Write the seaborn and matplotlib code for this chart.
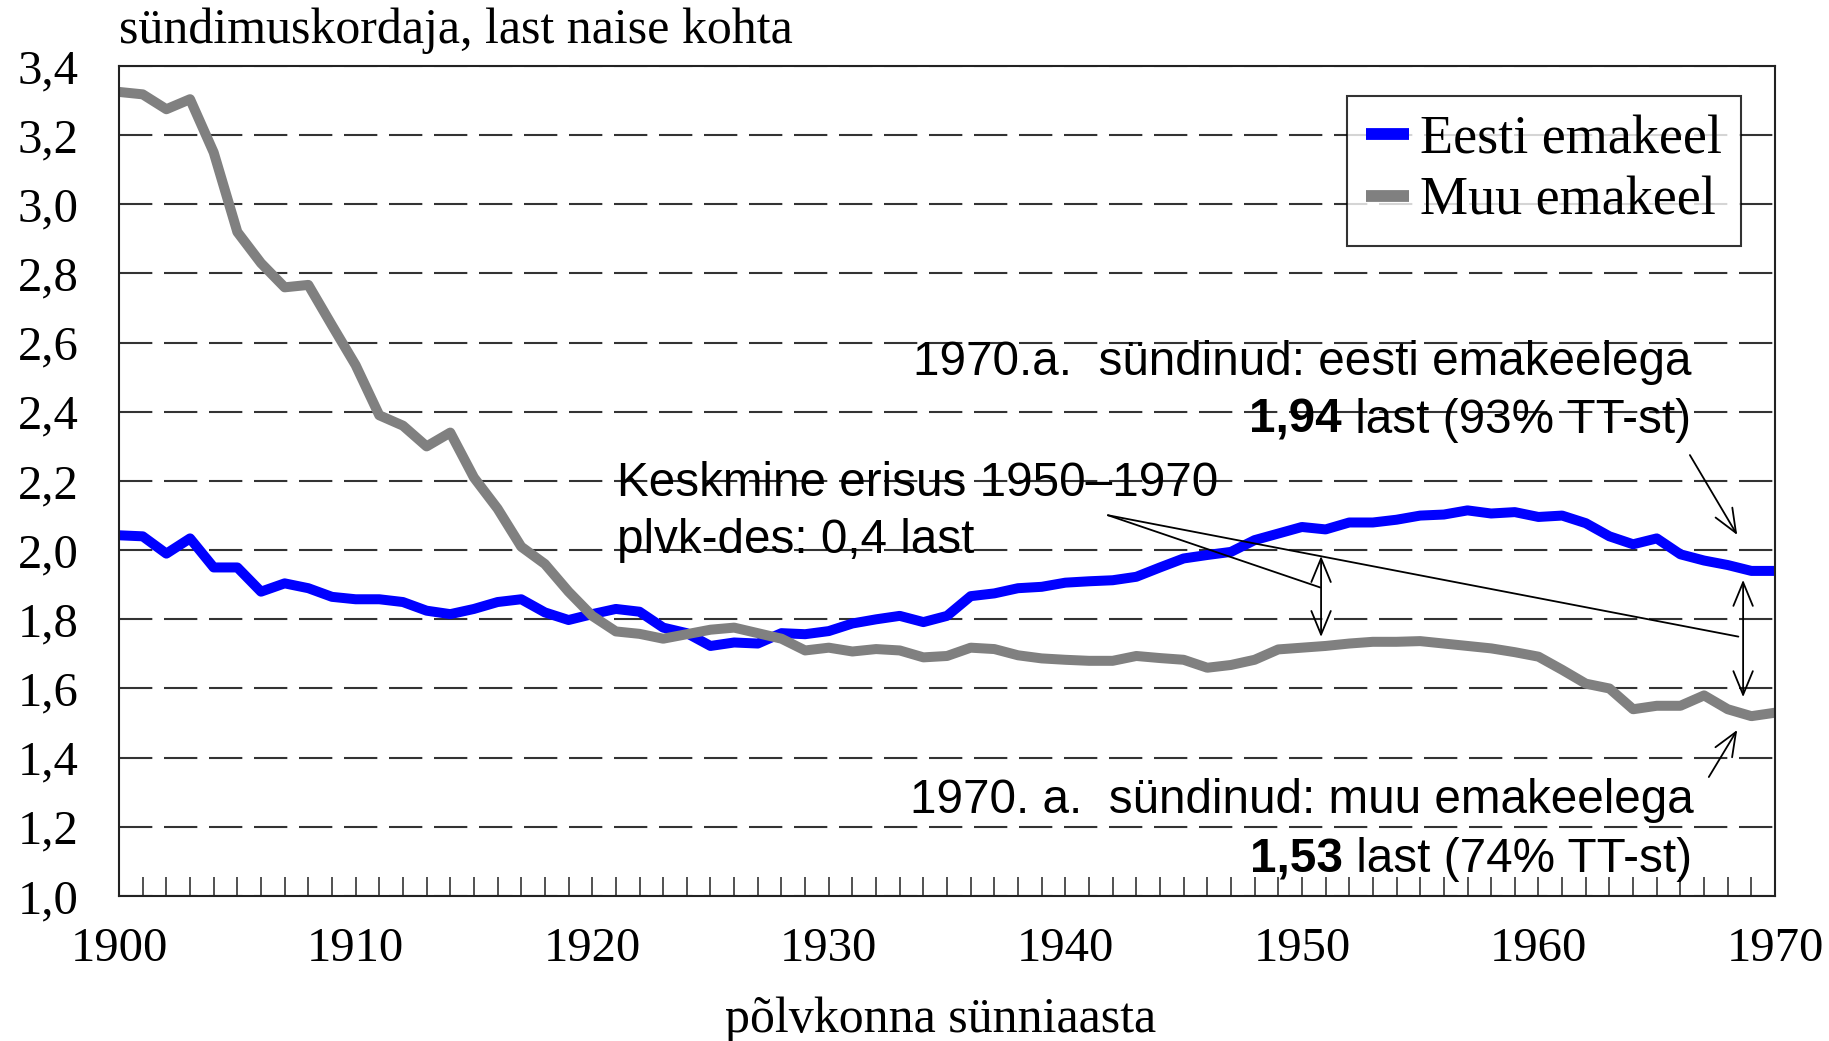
import numpy as np
import pandas as pd
import matplotlib
matplotlib.use("Agg")
import matplotlib.pyplot as plt
import seaborn as sns
from matplotlib.ticker import MultipleLocator, FixedLocator

# cohort birth year and completed fertility (children per woman)
years = list(range(1900, 1971))
eesti = [2.043, 2.04, 1.99, 2.034, 1.95, 1.95, 1.88, 1.904, 1.89, 1.865,
         1.858, 1.858, 1.85, 1.825, 1.815, 1.83, 1.85, 1.858, 1.82, 1.798,
         1.815, 1.83, 1.822, 1.776, 1.76, 1.723, 1.733, 1.73, 1.76, 1.757,
         1.766, 1.788, 1.80, 1.81, 1.792, 1.81, 1.867, 1.875, 1.89, 1.894,
         1.906, 1.91, 1.913, 1.923, 1.95, 1.976, 1.986, 1.995, 2.029, 2.048,
         2.067, 2.06, 2.08, 2.08, 2.088, 2.10, 2.103, 2.115, 2.106, 2.11,
         2.096, 2.10, 2.078, 2.04, 2.017, 2.034, 1.988, 1.97, 1.957, 1.94,
         1.94]
muu = [3.325, 3.318, 3.275, 3.304, 3.15, 2.92, 2.83, 2.76, 2.767, 2.65,
       2.535, 2.39, 2.36, 2.30, 2.34, 2.21, 2.12, 2.01, 1.96, 1.88,
       1.81, 1.765, 1.758, 1.744, 1.757, 1.77, 1.776, 1.76, 1.744, 1.71,
       1.718, 1.707, 1.714, 1.71, 1.69, 1.694, 1.718, 1.714, 1.696, 1.687,
       1.683, 1.68, 1.68, 1.694, 1.688, 1.683, 1.66, 1.668, 1.683, 1.713,
       1.718, 1.723, 1.73, 1.735, 1.735, 1.737, 1.73, 1.723, 1.716, 1.705,
       1.692, 1.654, 1.614, 1.60, 1.54, 1.55, 1.55, 1.58, 1.54, 1.52,
       1.53]

series_names = ["Eesti emakeel", "Muu emakeel"]
series_colors = ["#0000ff", "#808080"]

y_ticks = [1.0, 1.2, 1.4, 1.6, 1.8, 2.0, 2.2, 2.4, 2.6, 2.8, 3.0, 3.2, 3.4]
y_tick_labels = ["1,0", "1,2", "1,4", "1,6", "1,8", "2,0", "2,2", "2,4",
                 "2,6", "2,8", "3,0", "3,2", "3,4"]
x_ticks = [1900, 1910, 1920, 1930, 1940, 1950, 1960, 1970]

# annotation anchors (year, value)
gap_text_pos = [(1921.05, 2.157), (1921.05, 1.992)]
gap_leader_from = (1941.8, 2.101)
gap_leader_to = [(1950.78, 1.892), (1968.45, 1.75)]
gap_arrows = [((1950.81, 1.983), (1950.81, 1.749)),
              ((1968.65, 1.914), (1968.65, 1.575))]
eesti_note_pos = [(1966.45, 2.507), (1966.45, 2.340)]
eesti_arrow = ((1966.4, 2.275), (1968.4, 2.044))
muu_note_pos = [(1966.58, 1.240), (1966.50, 1.069)]
muu_arrow = ((1967.2, 1.344), (1968.4, 1.48))

sns.set_style("white")
plt.rcParams['font.family'] = ['Liberation Serif', 'DejaVu Serif']
plt.rcParams['text.color'] = 'black'
plt.rcParams['xtick.color'] = 'black'
plt.rcParams['ytick.color'] = 'black'
SANS = ['Liberation Sans', 'DejaVu Sans']
NOTE_SIZE = 34.3
SERIF_SIZE = 35

df = pd.DataFrame({
    "aasta": years * 2,
    "tft": eesti + muu,
    "emakeel": [series_names[0]] * len(years) + [series_names[1]] * len(years),
})

fig = plt.figure(figsize=(18.29, 10.41), dpi=100)
ax = fig.add_axes([0.0651, 0.1393, 0.9054, 0.7973])

sns.lineplot(data=df, x="aasta", y="tft", hue="emakeel",
             palette=dict(zip(series_names, series_colors)),
             linewidth=7.2, errorbar=None, legend=False, ax=ax)
for line in ax.lines:
    line.set_solid_joinstyle('round')
    line.set_solid_capstyle('butt')

ax.set_xlim(1900, 1970)
ax.set_ylim(1.0, 3.4)
ax.xaxis.set_major_locator(FixedLocator(x_ticks))
ax.xaxis.set_minor_locator(MultipleLocator(1))
ax.set_yticks(y_ticks)
ax.set_yticklabels(y_tick_labels)
ax.set_xlabel("")
ax.set_ylabel("")

ax.tick_params(axis='x', which='both', bottom=True, direction='in',
               length=13.7, width=1.1, color='#222222', labelsize=SERIF_SIZE,
               labelcolor='black', pad=22)
ax.tick_params(axis='y', which='both', left=True, length=0,
               labelsize=SERIF_SIZE, labelcolor='black', pad=29)

ax.set_axisbelow(True)
ax.yaxis.grid(True, linestyle=(0, (16, 5.6)), linewidth=1.5, color='#333333')
ax.xaxis.grid(False)
for s in ax.spines.values():
    s.set_visible(True)
    s.set_linewidth(1.5)
    s.set_color('#222222')

leg = ax.legend(ax.lines[:2], series_names, loc='upper right',
                bbox_to_anchor=(0.9795, 0.9639), borderaxespad=0,
                frameon=True, fancybox=False, edgecolor='black',
                fontsize=39, handlelength=0.8, handletextpad=0.2,
                labelspacing=0.2, borderpad=0.35)
leg.get_frame().set_linewidth(1.5)
for h in leg.get_lines():
    h.set_solid_capstyle('butt')
    h.set_linewidth(8.5)
for txt in leg.get_texts():
    txt.set_color('black')

fig.text(0.0651, 0.9587, "sündimuskordaja, last naise kohta",
         fontsize=SERIF_SIZE + 1, va='baseline', ha='left', color='black')
fig.text(0.514, 0.009, "põlvkonna sünniaasta",
         fontsize=SERIF_SIZE + 1, va='baseline', ha='center', color='black')

# annotations
for pos, line_text in zip(gap_text_pos,
                          ["Keskmine erisus 1950–1970", "plvk-des: 0,4 last"]):
    ax.text(pos[0], pos[1], line_text, family=SANS, fontsize=NOTE_SIZE,
            va='baseline', ha='left', color='black')
for tgt in gap_leader_to:
    ax.annotate("", xy=tgt, xytext=gap_leader_from,
                arrowprops=dict(arrowstyle='-', lw=1.3, color='black',
                                shrinkA=0, shrinkB=0))
for top, bottom in gap_arrows:
    ax.annotate("", xy=bottom, xytext=top,
                arrowprops=dict(arrowstyle='<->,head_length=0.85,head_width=0.35',
                                mutation_scale=20, lw=1.3, color='black',
                                shrinkA=0, shrinkB=0))
for start, end in (eesti_arrow, muu_arrow):
    ax.annotate("", xy=end, xytext=start,
                arrowprops=dict(arrowstyle='->,head_length=0.85,head_width=0.35',
                                mutation_scale=20, lw=1.3, color='black',
                                shrinkA=0, shrinkB=0))


def note(positions, first, bold, rest):
    p1, p2 = positions
    ax.text(p1[0], p1[1], first, family=SANS, fontsize=NOTE_SIZE,
            ha='right', va='baseline', color='black')
    t = ax.text(p2[0], p2[1], rest, family=SANS, fontsize=NOTE_SIZE,
                ha='right', va='baseline', color='black')
    fig.canvas.draw()
    w = t.get_window_extent().width * 72 / fig.dpi
    ax.annotate(bold, xy=p2, xycoords='data', xytext=(-w, 0),
                textcoords='offset points', family=SANS, fontsize=NOTE_SIZE,
                weight='bold', ha='right', va='baseline', color='black')


note(eesti_note_pos, "1970.a.  sündinud: eesti emakeelega", "1,94",
     " last (93% TT-st)")
note(muu_note_pos, "1970. a.  sündinud: muu emakeelega", "1,53",
     " last (74% TT-st)")

fig.savefig("out.png", dpi=100)
